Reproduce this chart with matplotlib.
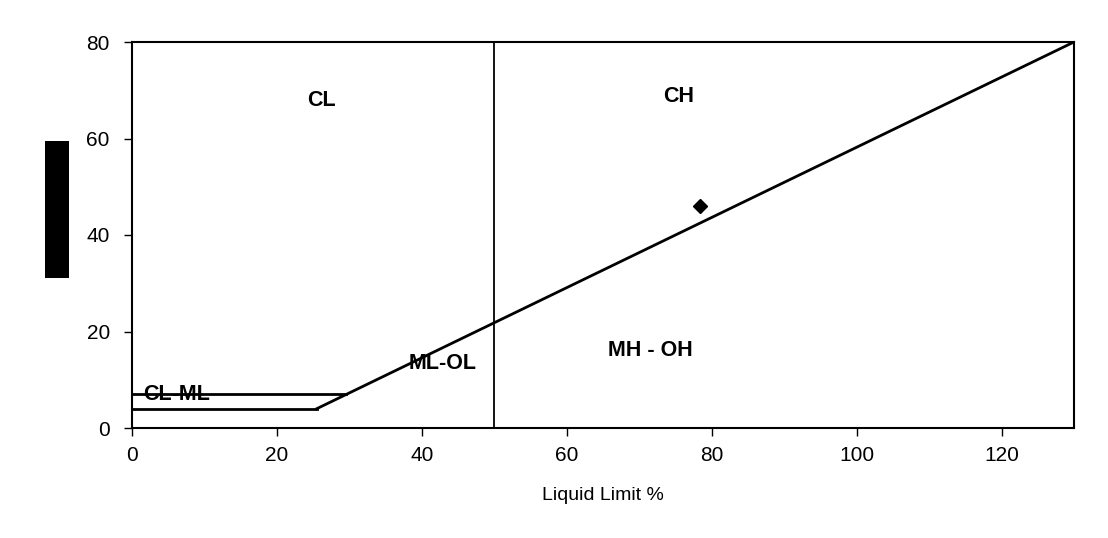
import numpy as np
import matplotlib.pyplot as plt
from matplotlib.patches import Rectangle

plt.rcParams['font.family'] = ['Liberation Sans', 'DejaVu Sans']

# A-line and zone boundaries
aline_ll = [25.5, 130]
aline_pi = [4, 80]
low_ll = [0, 25.5]
low_pi = [4, 4]
high_ll = [0, 29.6]
high_pi = [7, 7]
u_ll = [50, 50]
u_pi = [0, 80]

# sample point
sample_ll = [78.4]
sample_pi = [46]

zones = ["CL", "CH", "MH - OH", "ML-OL", "CL-ML"]
zone_x = [26.2, 75.4, 71.5, 42.9, 6.2]
zone_y = [67.9, 68.8, 16.0, 13.3, 7.0]

fig = plt.figure(figsize=(11.08, 5.38), dpi=100)
ax = fig.add_axes([132 / 1108, 1 - 428 / 538, (1074 - 132) / 1108, (428 - 42) / 538])

ax.plot(aline_ll, aline_pi, color='black', lw=2)
ax.plot(low_ll, low_pi, color='black', lw=2)
ax.plot(high_ll, high_pi, color='black', lw=2)
ax.plot(u_ll, u_pi, color='black', lw=1.3)
ax.plot(sample_ll, sample_pi, marker='D', color='black', ms=7, ls='none')

for name, x, y in zip(zones, zone_x, zone_y):
    ax.text(x, y, name, ha='center', va='center', fontsize=15.5, fontweight='bold')

ax.set_xlim(0, 130)
ax.set_ylim(0, 80)
ax.set_xticks(np.arange(0, 121, 20))
ax.set_yticks(np.arange(0, 81, 20))
ax.tick_params(labelsize=15, length=6, width=1, direction='out')
ax.tick_params(axis='y', pad=10)
ax.tick_params(axis='x', pad=7)
for s in ax.spines.values():
    s.set_linewidth(1.5)

ax.set_xlabel("Liquid Limit %", fontsize=14, labelpad=16)

# y label hidden inside a black box, as in the reference
fig.patches.append(Rectangle((45 / 1108, 1 - 278 / 538), 24 / 1108, 137 / 538,
                             transform=fig.transFigure, facecolor='black', edgecolor='none'))
fig.text(57 / 1108, 1 - 210 / 538, "Plasticity Index %", rotation=90, ha='center', va='center',
         fontsize=9, color='black')

fig.savefig("out.png", dpi=100)
